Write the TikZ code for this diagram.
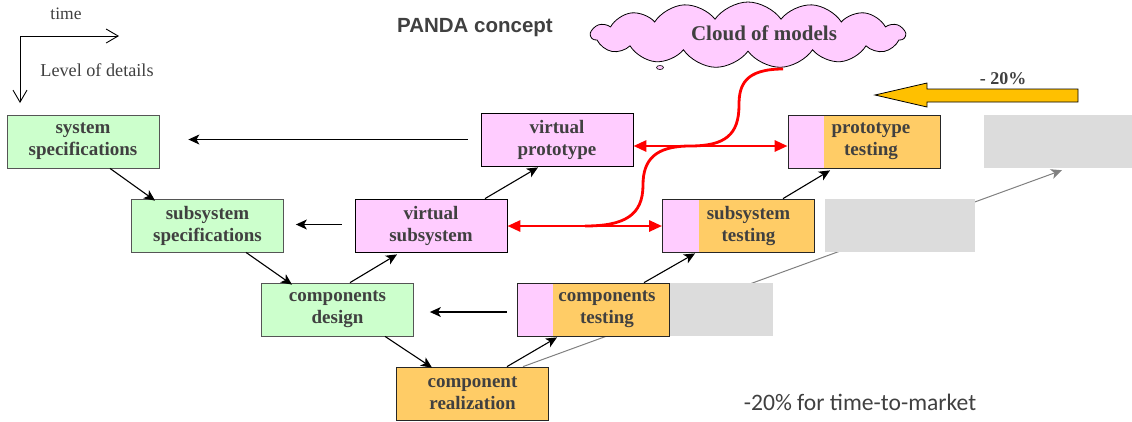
\documentclass[tikz,border=0pt]{standalone}
\usepackage{fontspec}
\setmainfont{Liberation Serif}
\newfontfamily\titlefont{Liberation Sans}
\newfontfamily\carlfont{Carlito}
\usetikzlibrary{shapes.symbols,arrows.meta,calc}
\definecolor{boxgreen}{HTML}{CCFFCC}
\definecolor{boxpink}{HTML}{FFCCFF}
\definecolor{boxorange}{HTML}{FFCC66}
\definecolor{boxgrey}{HTML}{DCDCDC}
\definecolor{txtgrey}{HTML}{404040}
\definecolor{bordergrey}{HTML}{555555}
\definecolor{arrowyellow}{HTML}{FFC000}
\begin{document}
\begin{tikzpicture}[x=1pt,y=-1pt,
  box/.style={rectangle, minimum width=152pt, minimum height=53pt, inner sep=0pt, line width=0.8pt,
    align=center, font=\fontsize{19}{22}\selectfont\bfseries, text=txtgrey},
  spec/.style={box, fill=boxgreen, draw=bordergrey},
  virt/.style={box, fill=boxpink, draw=black},
  impl/.style={box, fill=boxorange, draw=black!85},
  testbox/.style={impl, path picture={\fill[boxpink] (path picture bounding box.south west) rectangle ([xshift=36pt]path picture bounding box.north west);}},
  boxtxt/.style={align=center, inner sep=0pt, font=\fontsize{19}{22}\selectfont\bfseries, text=txtgrey},
  gbox/.style={rectangle, fill=boxgrey, inner sep=0pt, minimum height=53pt},
  arr/.style={-{Stealth[length=11pt,width=10pt,inset=3pt]}, line width=1.1pt},
  redarr/.style={{Triangle[length=13pt,width=11pt]}-{Triangle[length=13pt,width=11pt]}, red, line width=2.8pt},
  axis/.style={-{Straight Barb[length=12pt,width=14pt]}, line width=0.9pt},
  plain/.style={inner sep=0pt, text=txtgrey}
]
\useasboundingbox (0,0) rectangle (1132,421);

% axes
\coordinate (orig) at (20,36);
\coordinate (tend) at (119,36);
\coordinate (lend) at (20,103);
\draw[axis] (orig) -- (tend);
\draw[axis] (orig) -- (lend);
\node[plain, font=\fontsize{17.5}{20}\selectfont] (time) at (66,14) {time};
\node[plain, font=\fontsize{18.2}{20}\selectfont] (lod) at (97,70) {Level of details};

% title
\node[plain, font=\titlefont\fontsize{20.5}{24}\selectfont\bfseries] (title) at (475,28) {PANDA concept};

% grey line behind
\node[box, fill=boxorange, draw=black!85] (cr) at (472.5,393.5) {component\\realization};
\node[gbox, minimum width=148pt] (g3) at (1058,141.5) {};
\draw[gray, line width=1pt, -{Stealth[length=11pt,width=10pt,inset=3pt]}] ([xshift=50.5pt]cr.north) -- ([xshift=4pt,yshift=-2pt]g3.south);

% boxes
\node[spec] (ss) at (83,141.5) {system\\specifications};
\node[spec] (sub) at (207.5,225.5) {subsystem\\specifications};
\node[spec] (cd) at (337.5,309.5) {components\\design};
\node[virt] (vs) at (431,225.5) {virtual\\subsystem};
\node[virt] (vp) at (557,139.5) {virtual\\prototype};
\node[gbox, minimum width=104pt] (g1) at (721,309.5) {};
\node[gbox, minimum width=150pt] (g2) at (900,225.5) {};
\node[testbox] (ct) at (593,309.5) {};
\node[boxtxt] (ctl) at ([xshift=14pt]ct.center) {components\\testing};
\node[testbox] (st) at (738.5,225.5) {};
\node[boxtxt] (stl) at ([xshift=10pt]st.center) {subsystem\\testing};
\node[testbox] (pt) at (864,141.5) {};
\node[boxtxt] (ptl) at ([xshift=7pt]pt.center) {prototype\\testing};

% black diagonal arrows
\draw[arr] ([xshift=27pt]ss.south) -- ([xshift=-52.5pt,yshift=-2pt]sub.north);
\draw[arr] ([xshift=38.5pt]sub.south) -- ([xshift=-45.5pt,yshift=-2pt]cd.north);
\draw[arr] ([xshift=47.5pt]cd.south) -- ([xshift=-40.5pt,yshift=-1pt]cr.north);
\draw[arr] ([xshift=34.5pt]cr.north) -- ([xshift=-36pt,yshift=-1pt]ct.south);
\draw[arr] ([xshift=51pt]ct.north) -- ([xshift=-43.5pt,yshift=-1pt]st.south);
\draw[arr] ([xshift=44.5pt]st.north) -- ([xshift=-34pt,yshift=-2pt]pt.south);
\draw[arr] ([xshift=12.5pt]cd.north) -- ([xshift=-34pt,yshift=-2pt]vs.south);
\draw[arr] ([xshift=54pt]vs.north) -- ([xshift=-19pt,yshift=-1pt]vp.south);

% horizontal back arrows
\draw[arr] ([xshift=-13pt]vp.west) -- ([xshift=29pt]ss.east |- vp.west);
\draw[arr] ([xshift=-13pt,yshift=1pt]vs.west) -- ([xshift=12pt,yshift=1pt]sub.east);
\draw[arr] ([xshift=-10pt,yshift=-2.5pt]ct.west) -- ([xshift=16pt,yshift=-2.5pt]cd.east);

% cloud
\node[cloud, cloud puffs=15, cloud puff arc=110, aspect=4.7, draw=black, line width=0.8pt, fill=boxpink,
      minimum width=314pt, minimum height=66pt, inner sep=0pt] (cloud) at (748,35) {};
\node[plain, font=\fontsize{21}{24}\selectfont\bfseries] (cloudlbl) at (764,33) {Cloud of models};
\draw[fill=boxpink, line width=0.6pt] (660,67.5) ellipse (3.5 and 2);

% red links
\draw[redarr] ([yshift=-6.5pt]vp.east) -- ([yshift=-4.5pt]pt.west);
\draw[redarr] ([yshift=-0.5pt]vs.east) -- ([yshift=-0.5pt]st.west);
\coordinate (cs) at (783,69);
\coordinate (j1) at (690,146);
\coordinate (j2) at (585,226);
\draw[red, line width=2.8pt] (cs) .. controls (745,69) and (739,85) .. (739,105)
   .. controls (739,135) and (725,146) .. (j1)
   .. controls (655,146) and (643,160) .. (643,185)
   .. controls (643,215) and (625,226) .. (j2);

% yellow arrow
\draw[fill=arrowyellow, line width=0.8pt] (1078,89) -- (927,89) -- (927,83) -- (875,95) -- (927,107) -- (927,102) -- (1078,102) -- cycle;
\node[plain, font=\fontsize{18}{21}\selectfont\bfseries] (pct) at (1003,79) {- 20\%};

% bottom note
\node[plain, font=\carlfont\fontsize{23.6}{26}\selectfont] (note) at (860,402) {-20\% for time-to-market};
\end{tikzpicture}
\end{document}
